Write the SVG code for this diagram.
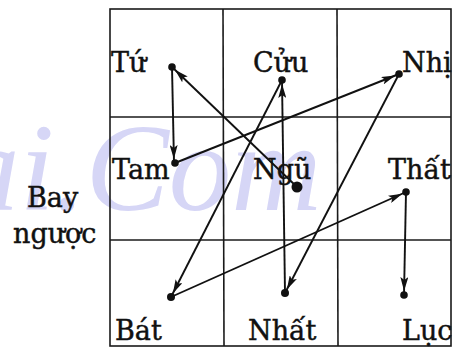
<svg xmlns="http://www.w3.org/2000/svg" width="455" height="348" viewBox="0 0 455 348">
<defs>
<style>
.grid{stroke:#1a1a1a;stroke-width:1.6;fill:none}
.conn{stroke:#111;stroke-width:1.9;fill:none;marker-end:url(#arr)}
.dot{fill:#111}
.lbl{font-family:"DejaVu Serif","Liberation Serif",serif;font-size:27px;fill:#111;stroke:#111;stroke-width:0.45}
.wm{font-family:"Liberation Serif",serif;font-style:italic;font-size:125px;fill:#d6d6f6}
</style>
<marker id="arr" viewBox="0 0 18 8" refX="18" refY="4" markerWidth="18" markerHeight="8" markerUnits="userSpaceOnUse" orient="auto">
<path d="M0,0 L14,4 L0,8 L3,4 z" fill="#111"/>
</marker>
</defs>
<rect width="455" height="348" fill="#fff"/>
<text class="wm" x="-43" y="210">ai.Com</text>
<g id="grid">
<rect class="grid" x="110" y="9" width="341" height="337"/>
<line class="grid" x1="223" y1="9" x2="224" y2="346"/>
<line class="grid" x1="337" y1="9" x2="338" y2="346"/>
<line class="grid" x1="110" y1="117" x2="451" y2="117"/>
<line class="grid" x1="110" y1="240" x2="451" y2="240"/>
</g>
<g id="connectors">
<line class="conn" x1="297" y1="187" x2="172" y2="67"/>
<line class="conn" x1="172" y1="67" x2="174" y2="163"/>
<line class="conn" x1="175" y1="163" x2="399" y2="74"/>
<line class="conn" x1="399" y1="74" x2="285" y2="293"/>
<line class="conn" x1="285" y1="293" x2="282" y2="80"/>
<line class="conn" x1="282" y1="80" x2="171" y2="297"/>
<line class="conn" x1="171" y1="297" x2="406" y2="192"/>
<line class="conn" x1="406" y1="192" x2="404" y2="295"/>
</g>
<g id="node-tu"><circle class="dot" cx="172" cy="67" r="3.8"/><text class="lbl" x="111" y="72">Tứ</text></g>
<g id="node-cuu"><circle class="dot" cx="282" cy="80" r="3.8"/><text class="lbl" x="253" y="72">Cửu</text></g>
<g id="node-nhi"><circle class="dot" cx="399" cy="74" r="3.8"/><text class="lbl" x="402" y="72">Nhị</text></g>
<g id="node-tam"><circle class="dot" cx="175" cy="163" r="3.8"/><text class="lbl" x="112" y="179">Tam</text></g>
<g id="node-ngu"><circle class="dot" cx="297" cy="187" r="5.5"/><text class="lbl" x="253" y="179">Ngũ</text></g>
<g id="node-that"><circle class="dot" cx="406" cy="192" r="3.8"/><text class="lbl" x="388" y="179">Thất</text></g>
<g id="node-bat"><circle class="dot" cx="171" cy="297" r="4"/><text class="lbl" x="115" y="340">Bát</text></g>
<g id="node-nhat"><circle class="dot" cx="285" cy="293" r="4"/><text class="lbl" x="248" y="340">Nhất</text></g>
<g id="node-luc"><circle class="dot" cx="404" cy="295" r="3.8"/><text class="lbl" x="402" y="340">Lục</text></g>
<g id="caption"><text class="lbl" x="27" y="207">Bay</text><text class="lbl" x="13" y="243">ngược</text></g>
</svg>
